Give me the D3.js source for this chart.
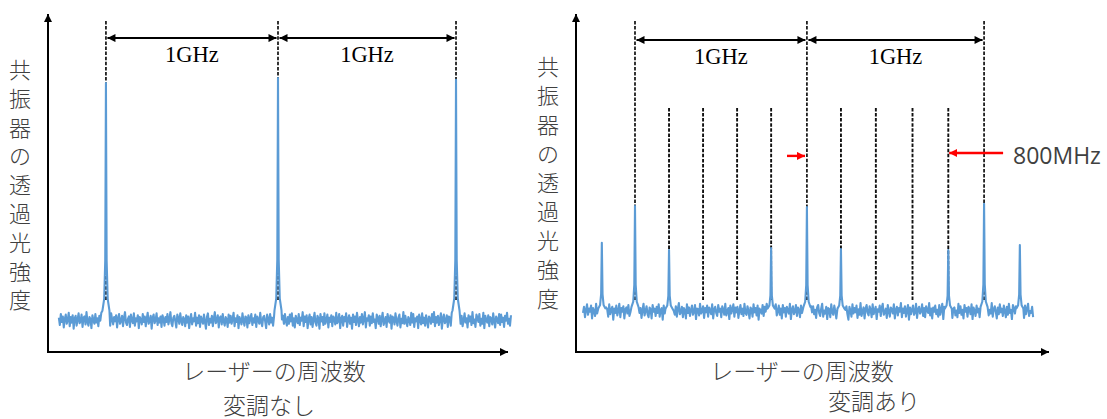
<!DOCTYPE html>
<html>
<head>
<meta charset="utf-8">
<script src="https://cdn.jsdelivr.net/npm/d3@7/dist/d3.min.js"></script>
<style>
  html, body { margin: 0; padding: 0; background: #fff; }
  svg { display: block; }
</style>
</head>
<body>
<svg id="chart" width="1107" height="419"></svg>
<script>
// ---------------- DATA ----------------
const yTitleChars = ["共","振","器","の","透","過","光","強","度"];
const xTitle = "レーザーの周波数";
const panelTitles = ["変調なし", "変調あり"];
const spacingLabel = "1GHz";
const offsetLabel = "800MHz";

// Left panel (no modulation): peak frequencies (GHz) and peak intensities
const leftPeakFreq = [0, 0.983, 2.0];
const leftPeakTop  = [0.835, 0.851, 0.845];
const leftBaseline = 0.099;
const leftNoiseRange = [-0.269, 2.314];

// Right panel (modulated): carrier + sidebands
const rightPeakFreq = [-0.19, 0, 0.195, 0.78, 0.985, 1.18, 1.795, 2.0, 2.205];
const rightPeakTop  = [0.339, 0.453, 0.317, 0.323, 0.450, 0.320, 0.317, 0.460, 0.332];
const rightBaseline = 0.127;
const rightNoiseRange = [-0.298, 2.281];

// Long dashed guides (resonances) and short dashed guides (sideband grid)
const leftGuides = [0, 0.983, 2.0];
const rightGuides = [0, 0.985, 2.0];
const rightShortGuides = [0.195, 0.39, 0.585, 0.78, 1.18, 1.38, 1.59, 1.795];

// Red arrows (800MHz)  [fromFreq, toFreq, level]
const redArrows = [[0.871, 0.974, 0.609], [2.109, 1.80, 0.618]];

// Peak shape (offset in GHz, relative height)
const peakOffsets = [-0.02, -0.01, -0.004, 0, 0.004, 0.01, 0.02];
const peakRel     = [0.04, 0.09, 0.25, 1, 0.25, 0.09, 0.04];

// Noise samples (unit = 0.0019 intensity); first half A, second half B
const leftNoiseA = [4,-8,10,-3,6,-12,2,9,-6,0,12,-10,5,-4,8,-14,3,7,-9,1,11,-5,-2,9,-11,4,6,-7,13,-3,-9,5,2,-13,8,0,-6,10,-4,3,-10,7,-1,12,-8,2,-5,9,-15,4,6,-3,-9,11,1,-7,5,-2,8,-12,3,10,-6,-1,7,-10,4,13,-4,-8,2,6,-11,9,0,-5,11,-9,3,-2,8,-13,5,1,-7,10,-3,6,-10,2,12,-6,-1,7,-14,4,9,-5,0,11,-8,3,-4,6,-11,8,2,-9,5,-3,10,-7,1,13,-5,-10,4,7,-2,-12,9,3,-6,11,-1,-8,5,2,-10,8,-4,6,-13,1,10,-7,3,-2,12,-9,4,-5,8,-11,6,0,-6,9,-3,-14,5,11,-8,2,-4,7,-10,3,13,-5,-1,8,-12,4,6,-7,10,-2,-9,5,1,-11,9,-4,7,-6,2,12,-10,3,-3,8,-13,5,0,-7,11,-1,-9,6,4,-12,8,-5,2,10,-8,3,-4,9,-11,6,1,-6,12,-3,-10,5,7,-2,-13,9,2,-7,10,-4,4,-9,6,0,11,-8,3,-5,8,-12,1,7,-6,10,-2,-9,5];
const leftNoiseB = [-6,9,-2,11,-9,3,-12,7,0,-5,10,-8,4,-1,13,-10,6,-3,8,-13,2,9,-7,5,-11,1,12,-4,-9,7,3,-14,10,-2,5,-8,11,-6,0,9,-12,4,-3,8,-10,6,2,-7,12,-5,-1,10,-13,3,7,-9,5,-2,11,-11,1,8,-6,4,-14,9,-3,6,-8,12,0,-10,5,-4,10,-7,2,13,-12,3,-1,8,-9,6,-5,11,-3,1,-13,9,4,-6,7,-10,2,12,-8,-2,5,-11,10,0,-4,8,-14,6,3,-7,11,-1,-9,4,9,-12,2,-5,13,-6,7,-3,-10,5,1,-8,12,-4,10,-11,3,-2,6,-13,9,0,-7,11,-5,4,-9,8,-1,-12,6,2,-6,10,-3,13,-10,5,-4,7,-8,1,11,-14,3,9,-5,-2,8,-11,6,4,-9,12,-1,-7,10,2,-13,5,-3,9,-6,7,-10,0,11,-4,3,-12,8,-2,6,-8,13,-5,1,-11,9,4,-3,10,-9,2,-6,12,-13,7,0,-4,8,-10,5,3,-7,11,-2,-12,6,1,-5,10,-8,9,-3,4,-11,7,-1,12,-6,2,-9,8];
const rightNoiseA = [-3,7,-10,2,11,-6,4,-1,9,-12,5,0,-8,12,-4,3,-11,8,1,-6,10,-2,-13,6,3,-9,11,-5,2,7,-14,4,-3,9,-7,0,12,-10,5,-1,8,-12,3,6,-4,10,-8,-2,11,-6,4,-13,7,1,-9,9,-3,5,-11,2,12,-7,0,8,-5,-10,6,3,-12,10,-1,4,-8,7,-3,11,-9,2,5,-14,9,-4,1,10,-7,3,-2,12,-11,6,0,-6,8,-9,4,13,-5,-2,7,-10,5,1,-12,11,-3,6,-8,2,9,-6,-1,10,-13,4,3,-7,12,-4,0,8,-11,5,-2,9,-9,6,1,-5,11,-12,3,7,-3,-8,10,-1,4,-10,8,2,-6,12,-7,0,5,-13,9,-4,3,11,-9,6,-2,7,-11,1,10,-5,4,-8,12,-3,-6,8,0,-12,6,3,-9,11,-2,5,-7,9,-14,4,1,-4,10,-8,7,-1,12,-10,3,-5,8,-3,6,-11,2,11,-7,0,9,-6,4,-12,10,-2,5,-9,7,1,-4,12,-13,3,8,-5,-1,10,-8,6,2,-10,9,-3,4,-7,11,0,-11,6,3,-6,8,-2];
const rightNoiseB = [8,-5,2,-11,6,10,-3,-8,4,12,-9,1,-4,7,-13,5,3,-10,11,-2,-6,9,0,-12,6,-1,10,-7,4,-3,12,-10,2,8,-5,-14,7,1,-9,11,-4,5,-2,9,-11,3,-6,13,-8,0,6,-12,4,10,-3,-7,8,2,-10,11,-5,1,7,-13,3,-1,9,-8,5,12,-6,-2,4,-11,10,0,-9,6,3,-4,11,-12,2,7,-7,5,-1,13,-10,4,-3,8,-9,1,10,-14,6,-5,2,9,-6,-2,12,-11,3,7,-4,0,11,-8,5,-10,8,1,-3,13,-7,4,-12,6,-1,9,-5,2,-9,10,-6,3,12,-13,7,-2,5,-8,11,0,-4,9,-11,4,6,-7,1,-10,12,-3,8,-6,2,-12,10,-1,5,-9,7,3,-5,11,-13,6,0,-8,9,-2,4,-10,12,-6,1,7,-3,-11,10,5,-7,2,-4,13,-9,3,8,-1,-12,6,-5,11,-2,4,-8,9,0,-10,7,-6,12,-3,2,-13,10,5,-4,8,-9,1,11,-7,3,-2,6,-11,9,-5,4,12,-8,0,-3,7,-10];
const NOISE_UNIT = 0.0019;

// ---------------- LAYOUT ----------------
const BLUE = "#5B9BD5";
const TEXT = "#404040";
const CJK = "'Noto Sans CJK JP', 'Noto Sans', sans-serif";

const panels = [
  { id: "L", xDomain: [-0.331, 2.297], xRange: [48, 508], yAxisX: 48, yLabelX: 20, yLabelTop: 68, yLabelStep: 28.8,
    titleX: 274, titleY: 380, subX: 269, subY: 414, arrowLevel: 0.975,
    peakFreq: leftPeakFreq, peakTop: leftPeakTop, base: leftBaseline,
    noise: leftNoiseA.concat(leftNoiseB), noiseRange: leftNoiseRange,
    guides: leftGuides, shortGuides: [], red: [], sub: panelTitles[0] },
  { id: "R", xDomain: [-0.338, 2.372], xRange: [576, 1049], yAxisX: 576, yLabelX: 548, yLabelTop: 65, yLabelStep: 29.0,
    titleX: 802, titleY: 380, subX: 874, subY: 410, arrowLevel: 0.969,
    peakFreq: rightPeakFreq, peakTop: rightPeakTop, base: rightBaseline,
    noise: rightNoiseA.concat(rightNoiseB), noiseRange: rightNoiseRange,
    guides: rightGuides, shortGuides: rightShortGuides, red: redArrows, sub: panelTitles[1] }
];

const svg = d3.select("#chart");
const defs = svg.append("defs");
function marker(id, color, w, h) {
  defs.append("marker").attr("id", id)
    .attr("viewBox", "0 0 10 10").attr("refX", 10).attr("refY", 5)
    .attr("markerUnits", "userSpaceOnUse")
    .attr("markerWidth", w).attr("markerHeight", h)
    .attr("orient", "auto-start-reverse")
    .append("path").attr("d", "M0,0 L10,5 L0,10 z").attr("fill", color);
}
marker("axArrow", "#000", 9, 8);
marker("dimArrow", "#000", 10, 8);
marker("redArrow", "#FF0000", 8, 8);

const y = d3.scaleLinear().domain([0, 1]).range([352, 30]);
const GUIDE_TOP = 1.028, GUIDE_BOTTOM = 0.16, SHORT_TOP = 0.758;

panels.forEach(p => {
  const x = d3.scaleLinear().domain(p.xDomain).range(p.xRange);
  const g = svg.append("g");

  // Dashed guides (behind the trace)
  g.selectAll(".guide").data(p.guides).join("line")
    .attr("x1", d => x(d)).attr("x2", d => x(d))
    .attr("y1", y(GUIDE_TOP)).attr("y2", y(GUIDE_BOTTOM))
    .attr("stroke", "#111").attr("stroke-width", 1.7).attr("stroke-dasharray", "3.5,1.6");
  g.selectAll(".sguide").data(p.shortGuides).join("line")
    .attr("x1", d => x(d)).attr("x2", d => x(d))
    .attr("y1", y(SHORT_TOP)).attr("y2", y(GUIDE_BOTTOM))
    .attr("stroke", "#111").attr("stroke-width", 1.9).attr("stroke-dasharray", "3.5,1.6");

  // Spectrum trace
  const n = p.noise.length;
  const step = (p.noiseRange[1] - p.noiseRange[0]) / (n - 1);
  let pts = p.noise.map((v, i) => [p.noiseRange[0] + i * step, p.base + v * NOISE_UNIT]);
  pts = pts.filter(([f]) => p.peakFreq.every(pf => Math.abs(f - pf) > 0.022));
  p.peakFreq.forEach((pf, k) => {
    peakOffsets.forEach((o, j) => {
      pts.push([pf + o, p.base + (p.peakTop[k] - p.base) * peakRel[j]]);
    });
  });
  pts.sort((a, b) => a[0] - b[0]);
  const line = d3.line().x(d => x(d[0])).y(d => y(d[1]));
  g.append("path").datum(pts).attr("d", line)
    .attr("fill", "none").attr("stroke", BLUE).attr("stroke-width", 2.1)
    .attr("stroke-linejoin", "round");

  // Axes
  g.append("line").attr("x1", p.yAxisX).attr("x2", p.yAxisX)
    .attr("y1", y(0) + 1).attr("y2", 14)
    .attr("stroke", "#000").attr("stroke-width", 2).attr("marker-end", "url(#axArrow)");
  g.append("line").attr("x1", p.yAxisX - 1).attr("x2", p.xRange[1])
    .attr("y1", y(0)).attr("y2", y(0))
    .attr("stroke", "#000").attr("stroke-width", 2).attr("marker-end", "url(#axArrow)");

  // Dimension arrows + 1GHz labels
  for (let i = 0; i < p.guides.length - 1; i++) {
    const a = p.guides[i], b = p.guides[i + 1];
    g.append("line").attr("x1", x(a) + 1.5).attr("x2", x(b) - 1.5)
      .attr("y1", y(p.arrowLevel)).attr("y2", y(p.arrowLevel))
      .attr("stroke", "#000").attr("stroke-width", 2)
      .attr("marker-start", "url(#dimArrow)").attr("marker-end", "url(#dimArrow)");
    g.append("text").attr("x", x((a + b) / 2)).attr("y", y(p.arrowLevel) + 24)
      .attr("text-anchor", "middle")
      .attr("font-family", "'Liberation Serif', 'DejaVu Serif', serif")
      .attr("font-size", 22.5).attr("fill", "#000").text(spacingLabel);
  }

  // Red arrows
  p.red.forEach(([f0, f1, lv]) => {
    g.append("line").attr("x1", x(f0)).attr("x2", x(f1))
      .attr("y1", y(lv)).attr("y2", y(lv))
      .attr("stroke", "#FF0000").attr("stroke-width", 2.4)
      .attr("marker-end", "url(#redArrow)");
  });
  if (p.red.length) {
    g.append("text").attr("x", 1013).attr("y", y(p.red[1][2]) + 2)
      .attr("dominant-baseline", "central")
      .attr("font-family", "'Open Sans', 'Noto Sans', sans-serif")
      .attr("font-size", 23).attr("fill", TEXT).text(offsetLabel);
  }

  // Y title (vertical stacked)
  g.selectAll(".ych").data(yTitleChars).join("text")
    .attr("x", p.yLabelX).attr("y", (d, i) => p.yLabelTop + i * p.yLabelStep)
    .attr("text-anchor", "middle").attr("dominant-baseline", "central")
    .attr("font-family", CJK).attr("font-weight", 300).attr("font-size", 22).attr("fill", TEXT).text(d => d);

  // X title and panel caption
  g.append("text").attr("x", p.titleX).attr("y", p.titleY)
    .attr("text-anchor", "middle").attr("font-family", CJK).attr("font-weight", 300)
    .attr("font-size", 23).attr("fill", TEXT).text(xTitle);
  g.append("text").attr("x", p.subX).attr("y", p.subY)
    .attr("text-anchor", "middle").attr("font-family", CJK).attr("font-weight", 300)
    .attr("font-size", 23).attr("fill", TEXT).text(p.sub);
});
</script>
</body>
</html>
